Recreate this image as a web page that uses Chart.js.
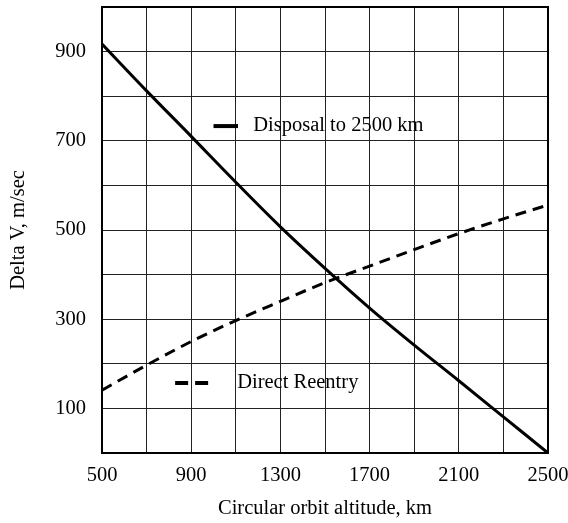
<!DOCTYPE html>
<html>
<head>
<meta charset="utf-8">
<script src="https://cdn.jsdelivr.net/npm/chart.js@4"></script>
<style>
  html, body { margin: 0; padding: 0; background: #fff; }
  #wrap { width: 568px; height: 523px; }
</style>
</head>
<body>
<div id="wrap"><canvas id="chart" width="568" height="523"></canvas></div>
<script>
// altitude, km
const altitudes = [500, 700, 900, 1100, 1300, 1500, 1700, 1900, 2100, 2300, 2500];
// delta V, m/sec
const disposal = [917, 812, 710, 607, 507, 414, 325, 242, 162, 81, 0];
const reentry = [141, 197, 250, 297, 340, 382, 419, 456, 492, 525, 556];

const xLabels = [500, 900, 1300, 1700, 2100, 2500];
const yLabels = [100, 300, 500, 700, 900];

const seriesNames = ['Disposal to 2500 km', 'Direct Reentry'];

const serif = 'Liberation Serif';
const fontSize = 20.5;

const chartAreaBorder = {
  id: 'chartAreaBorder',
  afterDatasetsDraw(chart, args, options) {
    const { ctx, chartArea: { left, top, width, height } } = chart;
    ctx.save();
    ctx.strokeStyle = options.borderColor;
    ctx.lineWidth = options.borderWidth;
    ctx.strokeRect(left, top, width, height);
    ctx.restore();
  },
};

// legend entries placed inside the plot, anchored in data units
const inlineLegend = {
  id: 'inlineLegend',
  afterDatasetsDraw(chart, args, options) {
    const { ctx, scales: { x, y } } = chart;
    ctx.save();
    ctx.font = options.font;
    ctx.fillStyle = '#000';
    ctx.textBaseline = 'middle';
    options.items.forEach((item) => {
      const yy = y.getPixelForValue(item.y);
      ctx.strokeStyle = '#000';
      ctx.lineWidth = 4;
      ctx.setLineDash(item.dash);
      ctx.beginPath();
      ctx.moveTo(x.getPixelForValue(item.x0), yy);
      ctx.lineTo(x.getPixelForValue(item.x1), yy);
      ctx.stroke();
      ctx.setLineDash([]);
      ctx.fillText(item.text, x.getPixelForValue(item.tx), yy);
    });
    ctx.restore();
  },
};

new Chart(document.getElementById('chart'), {
  type: 'line',
  data: {
    datasets: [
      {
        label: seriesNames[0],
        data: altitudes.map((a, i) => ({ x: a, y: disposal[i] })),
        borderColor: '#000',
        borderWidth: 3,
        pointRadius: 0,
        cubicInterpolationMode: 'monotone',
      },
      {
        label: seriesNames[1],
        data: altitudes.map((a, i) => ({ x: a, y: reentry[i] })),
        borderColor: '#000',
        borderWidth: 3,
        borderDash: [11, 7],
        pointRadius: 0,
        cubicInterpolationMode: 'monotone',
      },
    ],
  },
  plugins: [chartAreaBorder, inlineLegend],
  options: {
    responsive: false,
    animation: false,
    layout: { autoPadding: false, padding: { top: 7, right: 20, left: 0, bottom: 0 } },
    plugins: {
      legend: { display: false },
      tooltip: { enabled: false },
      chartAreaBorder: { borderColor: '#000', borderWidth: 2 },
      inlineLegend: {
        font: fontSize + 'px "' + serif + '"',
        items: [
          { text: seriesNames[0], x0: 1000, x1: 1110, tx: 1178, y: 733, dash: [] },
          { text: seriesNames[1], x0: 828, x1: 981, tx: 1106, y: 157, dash: [13, 7] },
        ],
      },
    },
    scales: {
      x: {
        type: 'linear',
        min: 500,
        max: 2500,
        afterFit(scale) {
          scale.height = 70;
          scale.paddingLeft = 0;
          scale.paddingRight = 0;
        },
        afterBuildTicks(scale) {
          scale.ticks = altitudes.map((v) => ({ value: v }));
        },
        ticks: {
          color: '#000',
          font: { family: serif, size: fontSize },
          padding: 10,
          maxRotation: 0,
          autoSkip: false,
          callback: (v) => (xLabels.includes(v) ? String(v) : ''),
        },
        grid: { color: '#222', lineWidth: 1, drawTicks: false },
        border: { color: '#000', width: 2 },
        title: {
          display: true,
          text: 'Circular orbit altitude, km',
          color: '#000',
          font: { family: serif, size: fontSize },
          padding: { top: 0, bottom: 2 },
        },
      },
      y: {
        type: 'linear',
        min: 0,
        max: 1000,
        afterFit(scale) {
          scale.width = 102;
          scale.paddingTop = 0;
          scale.paddingBottom = 0;
        },
        afterBuildTicks(scale) {
          const t = [];
          for (let v = 0; v <= 1000; v += 100) t.push({ value: v });
          scale.ticks = t;
        },
        ticks: {
          color: '#000',
          font: { family: serif, size: fontSize },
          padding: 16,
          autoSkip: false,
          callback: (v) => (yLabels.includes(v) ? String(v) : ''),
        },
        grid: { color: '#222', lineWidth: 1, drawTicks: false },
        border: { color: '#000', width: 2 },
        title: {
          display: true,
          text: 'Delta V, m/sec',
          color: '#000',
          font: { family: serif, size: fontSize },
          padding: { top: 6, bottom: 0 },
        },
      },
    },
  },
});
</script>
</body>
</html>
